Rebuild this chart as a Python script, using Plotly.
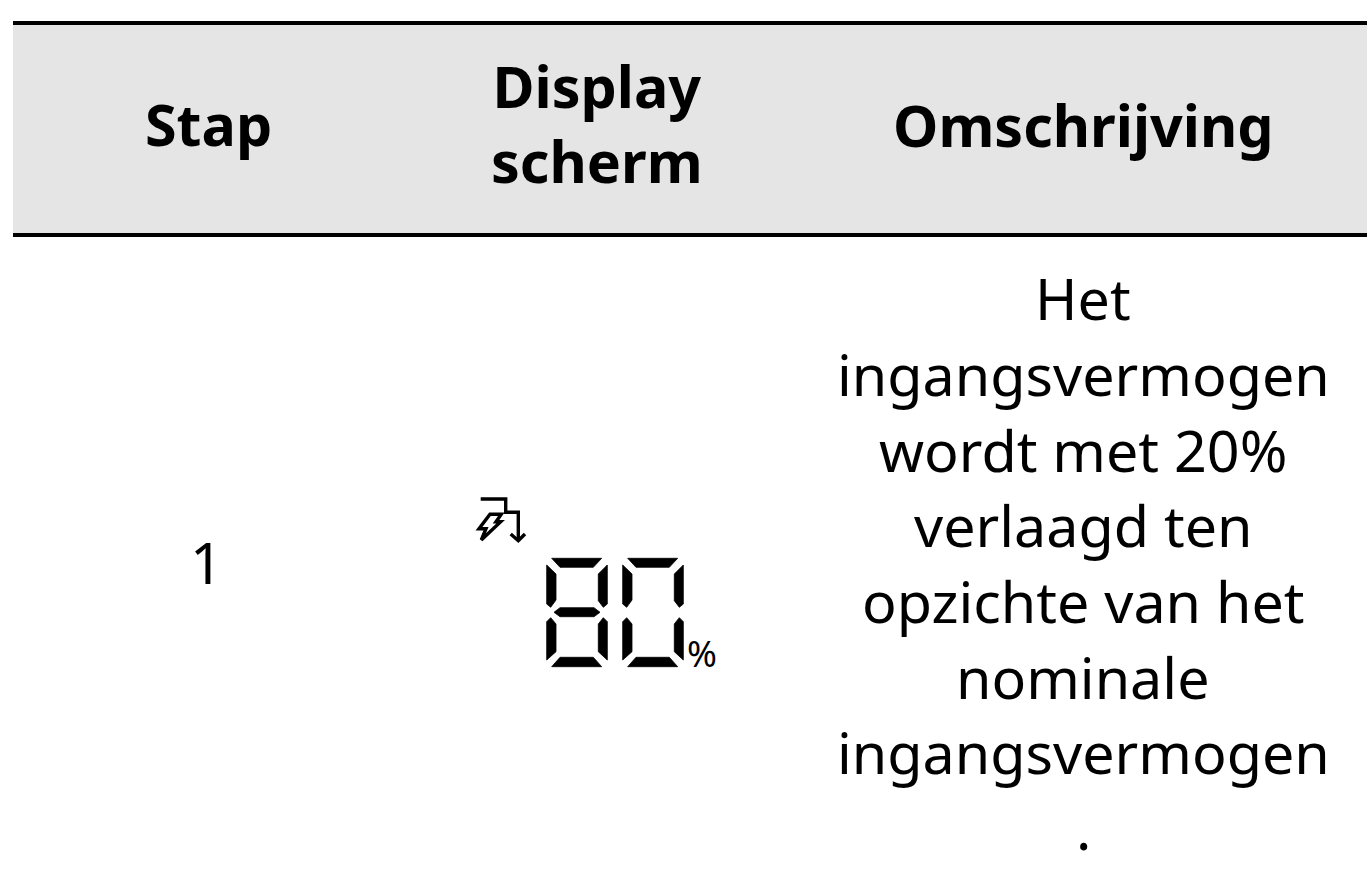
import plotly.graph_objects as go

headers = ["Stap", "Display<br>scherm", "Omschrijving"]
step = "1"
description_lines = ["Het", "ingangsvermogen", "wordt met 20%", "verlaagd ten",
                     "opzichte van het", "nominale", "ingangsvermogen", "."]
percent_label = "%"

WIDTH, HEIGHT = 1367, 886
FONT = "Noto Sans"
SIZE = 57.4
col_x = [208, 597, 1083]
line_y = [297.5, 373.5, 449.5, 525, 601, 677, 752, 828]


def zoom_pt(p, dx=0):
    return (460 + (p[0] + dx) / 3, 480 + p[1] / 3)


def path(points, dx=0, close=True):
    pts = [zoom_pt(p, dx) for p in points]
    s = "M" + " L".join(f"{x:.1f},{y:.1f}" for x, y in pts)
    return s + (" Z" if close else "")


segments = {
    "top": [(275, 235), (425, 235), (400, 262), (300, 262)],
    "ul": [(260, 255), (288, 282), (288, 360), (272, 382), (260, 372)],
    "ur": [(442, 255), (442, 372), (430, 382), (415, 362), (415, 282)],
    "mid": [(282, 397), (300, 383), (402, 383), (420, 397), (402, 410), (300, 410)],
    "ll": [(260, 425), (272, 413), (288, 432), (288, 515), (260, 540)],
    "lr": [(442, 425), (442, 540), (415, 515), (415, 432), (430, 413)],
    "bot": [(300, 532), (400, 532), (425, 560), (275, 560)],
}
digit_segments = [["top", "ul", "ur", "mid", "ll", "lr", "bot"],
                  ["top", "ul", "ur", "ll", "lr", "bot"]]
digit_offset = [0, 228]

shapes = [
    dict(type="rect", x0=13, x1=WIDTH, y0=25, y1=233, fillcolor="#e5e5e5", line_width=0, layer="below"),
    dict(type="line", x0=13, x1=WIDTH, y0=23, y1=23, line=dict(color="#000", width=4)),
    dict(type="line", x0=13, x1=WIDTH, y0=235, y1=235, line=dict(color="#000", width=4)),
]
for segs, dx in zip(digit_segments, digit_offset):
    for name in segs:
        shapes.append(dict(type="path", path=path(segments[name], dx), fillcolor="#000",
                           line=dict(color="#000", width=0.8)))

icon_paths = [
    ([(62, 57), (137, 57), (137, 97), (175, 97), (175, 180)], False),
    ([(152, 162), (175, 182), (195, 162)], False),
    ([(90, 103), (124, 103), (108, 125), (122, 125), (64, 180), (78, 146), (57, 146)], True),
]
for pts, closed in icon_paths:
    shapes.append(dict(type="path", path=path(pts, close=closed), line=dict(color="#000", width=3.4)))

annotations = []


def add_text(x, y, text, size, bold=False):
    annotations.append(dict(x=x, y=y, text=text, showarrow=False, xanchor="center", yanchor="middle",
                            font=dict(family=FONT, size=size, color="#000", weight=700 if bold else 400)))


add_text(col_x[0], 124, headers[0], SIZE, True)
add_text(col_x[1], 123.5, headers[1], SIZE, True)
add_text(col_x[2], 124.5, headers[2], SIZE, True)
add_text(col_x[0] - 2, 562, step, SIZE)
for y, t in zip(line_y, description_lines):
    add_text(col_x[2], y, t, SIZE)
add_text(701.5, 653, percent_label, 36)

fig = go.Figure()
fig.update_layout(
    width=WIDTH, height=HEIGHT, margin=dict(l=0, r=0, t=0, b=0),
    paper_bgcolor="#fff", plot_bgcolor="#fff", showlegend=False,
    xaxis=dict(range=[0, WIDTH], visible=False, fixedrange=True),
    yaxis=dict(range=[HEIGHT, 0], visible=False, fixedrange=True),
    shapes=shapes, annotations=annotations,
)
fig.write_html("out.html", config=dict(displayModeBar=False),
               default_width=WIDTH, default_height=HEIGHT,
               post_script="document.body.style.margin='0';document.documentElement.style.overflow='hidden';")
